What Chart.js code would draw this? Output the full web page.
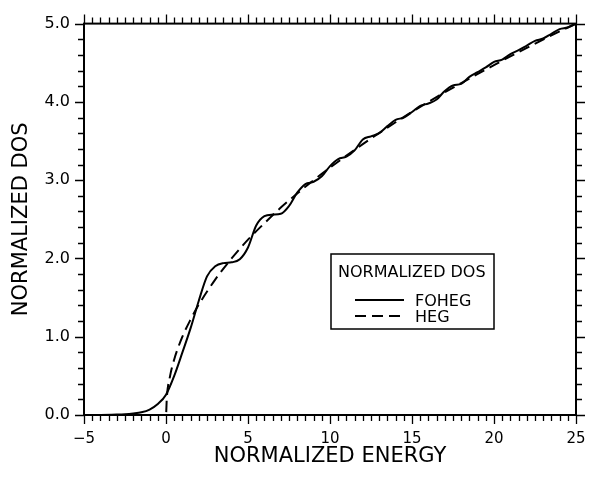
<!DOCTYPE html>
<html>
<head>
<meta charset="utf-8">
<script src="https://cdn.jsdelivr.net/npm/chart.js@4.4.1/dist/chart.umd.min.js"></script>
<style>
  html, body { margin: 0; padding: 0; background: #fff; }
  #wrap { width: 609px; height: 478px; }
</style>
</head>
<body>
<div id="wrap"><canvas id="dos"></canvas></div>
<script>
// FOHEG (solid)
const foEnergy = [-5, -4, -3, -2.5, -2, -1.5, -1, -0.5, 0, 0.5, 1, 1.5, 2, 2.5, 3, 3.5, 4, 4.5,
  5, 5.5, 6, 6.5, 7, 7.5, 8, 8.5, 9, 9.5, 10, 10.5, 11, 11.5, 12, 12.5, 13, 13.5, 14, 14.5,
  15, 15.5, 16, 16.5, 17, 17.5, 18, 18.5, 19, 19.5, 20, 20.5, 21, 21.5, 22, 22.5, 23, 23.5,
  24, 24.5, 25];
const foDos = [0, 0, 0.005, 0.01, 0.02, 0.035, 0.07, 0.14, 0.26, 0.5, 0.8, 1.11, 1.46, 1.77, 1.9, 1.94, 1.95, 1.99,
  2.14, 2.42, 2.54, 2.56, 2.57, 2.67, 2.84, 2.95, 2.98, 3.05, 3.18, 3.27, 3.3, 3.38, 3.52, 3.56, 3.6, 3.69, 3.77, 3.8,
  3.87, 3.95, 3.98, 4.03, 4.14, 4.21, 4.23, 4.32, 4.38, 4.44, 4.51, 4.54, 4.61, 4.66, 4.72, 4.78, 4.81, 4.87,
  4.93, 4.95, 5.0];

// HEG (dashed)
const hegEnergy = [-5, 0, 0.05, 0.25, 0.5, 1, 1.5, 2, 3, 4, 5, 6, 7, 8, 9, 10, 12, 14, 16, 18, 20, 22, 24, 25];
const hegDos = [0, 0, 0.22, 0.5, 0.71, 1, 1.22, 1.41, 1.73, 2, 2.24, 2.45, 2.65, 2.83, 3, 3.16, 3.46, 3.74, 4, 4.24, 4.47, 4.69, 4.9, 5];

// tick labels
const xTicks = [-5, 0, 5, 10, 15, 20, 25];
const yTicks = [0, 1, 2, 3, 4, 5];

const FONT = '"DejaVu Sans", sans-serif';

function toPoints(xs, ys) {
  return xs.map((x, i) => ({ x, y: ys[i] }));
}

// frame + major/minor ticks on all four sides
const frameTicks = {
  id: 'frameTicks',
  afterDraw(chart) {
    const { ctx, chartArea: a, scales: { x, y } } = chart;
    ctx.save();
    ctx.strokeStyle = '#000';
    ctx.lineWidth = 2;
    ctx.strokeRect(a.left, a.top, a.right - a.left, a.bottom - a.top);
    ctx.lineWidth = 1.3;
    ctx.beginPath();
    for (let i = 0; i <= 60; i++) {
      const v = -5 + i * 0.5;
      const len = xTicks.includes(v) ? 9 : 6;
      const px = Math.round(x.getPixelForValue(v)) + 0.5;
      ctx.moveTo(px, a.bottom); ctx.lineTo(px, a.bottom + len);
      ctx.moveTo(px, a.top); ctx.lineTo(px, a.top - len);
    }
    for (let i = 0; i <= 25; i++) {
      const v = i * 0.2;
      const len = i % 5 === 0 ? 9 : 6;
      const py = Math.round(y.getPixelForValue(v)) + 0.5;
      ctx.moveTo(a.left, py); ctx.lineTo(a.left - len, py);
      ctx.moveTo(a.right, py); ctx.lineTo(a.right + len, py);
    }
    ctx.stroke();
    ctx.restore();
  }
};

// boxed legend with a title line
const boxLegend = {
  id: 'boxLegend',
  afterDraw(chart) {
    const { ctx } = chart;
    const ds = chart.data.datasets;
    ctx.save();
    ctx.strokeStyle = '#000';
    ctx.lineWidth = 1.5;
    ctx.strokeRect(331, 254, 163, 75);
    ctx.fillStyle = '#000';
    ctx.font = '16px ' + FONT;
    ctx.textBaseline = 'alphabetic';
    ctx.fillText('NORMALIZED DOS', 338, 277);
    const rows = [{ y: 300, base: 306 }, { y: 316, base: 322 }];
    ds.forEach((d, i) => {
      ctx.lineWidth = d.borderWidth;
      ctx.setLineDash(d.borderDash || []);
      ctx.beginPath();
      ctx.moveTo(355, rows[i].y);
      ctx.lineTo(404, rows[i].y);
      ctx.stroke();
      ctx.setLineDash([]);
      ctx.fillText(d.label, 415, rows[i].base);
    });
    ctx.restore();
  }
};

new Chart(document.getElementById('dos'), {
  type: 'line',
  data: {
    datasets: [
      {
        label: 'FOHEG',
        data: toPoints(foEnergy, foDos),
        borderColor: '#000',
        borderWidth: 2,
        pointRadius: 0,
        cubicInterpolationMode: 'monotone'
      },
      {
        label: 'HEG',
        data: toPoints(hegEnergy, hegDos),
        borderColor: '#000',
        borderWidth: 2,
        borderDash: [11, 6],
        pointRadius: 0,
        cubicInterpolationMode: 'monotone'
      }
    ]
  },
  options: {
    responsive: true,
    maintainAspectRatio: false,
    animation: false,
    layout: { padding: { top: 12, right: 33, left: 0, bottom: 0 } },
    plugins: { legend: { display: false }, tooltip: { enabled: false } },
    scales: {
      x: {
        type: 'linear',
        min: -5, max: 25,
        afterBuildTicks: s => { s.ticks = xTicks.map(v => ({ value: v })); },
        afterFit: s => { s.height = 63; },
        grid: { display: false, drawTicks: false },
        border: { display: false },
        ticks: {
          color: '#000', padding: 15, maxRotation: 0, autoSkip: false,
          font: { family: FONT, size: 15 },
          callback: v => (v < 0 ? '\u2212' + Math.abs(v) : String(v))
        },
        title: {
          display: true, text: 'NORMALIZED ENERGY', color: '#000',
          font: { family: FONT, size: 21 },
          padding: { top: 0, bottom: 9 }
        }
      },
      y: {
        type: 'linear',
        min: 0, max: 5,
        afterBuildTicks: s => { s.ticks = yTicks.map(v => ({ value: v })); },
        afterFit: s => { s.width = 84; },
        grid: { display: false, drawTicks: false },
        border: { display: false },
        ticks: {
          color: '#000', padding: 14, autoSkip: false,
          font: { family: FONT, size: 16 },
          callback: v => Number(v).toFixed(1)
        },
        title: {
          display: true, text: 'NORMALIZED DOS', color: '#000',
          font: { family: FONT, size: 21 },
          padding: { top: 9, bottom: 0 }
        }
      }
    }
  },
  plugins: [frameTicks, boxLegend]
});
</script>
</body>
</html>
